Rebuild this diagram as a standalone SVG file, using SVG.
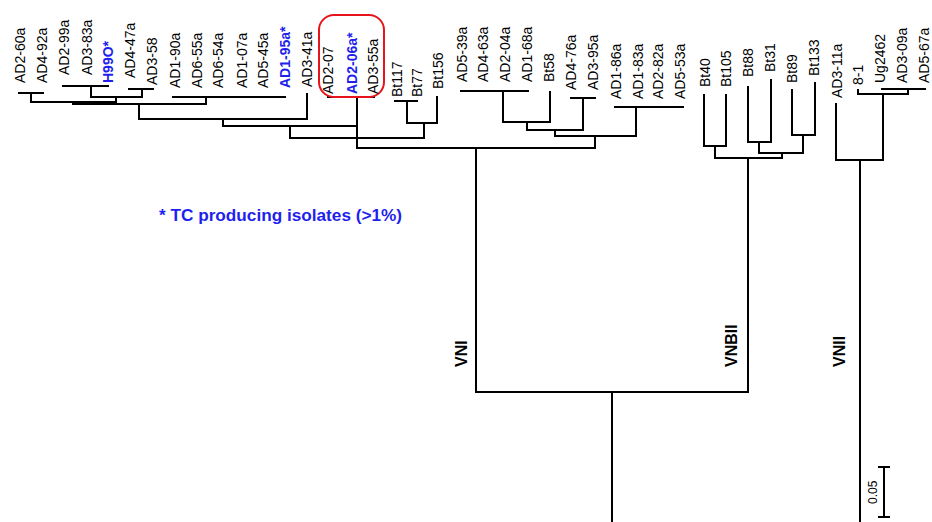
<svg xmlns="http://www.w3.org/2000/svg" width="932" height="522" viewBox="0 0 932 522">
<style>
.l{font-family:"Liberation Sans",Arial,sans-serif;font-size:14px;fill:#000}
.b{font-weight:bold;fill:#1f1fee}
.c{font-family:"Liberation Sans",Arial,sans-serif;font-size:16px;font-weight:bold;fill:#000}
.e{fill:none;stroke:#000;stroke-width:2;stroke-linecap:square}
</style>
<rect width="932" height="522" fill="#fff"/>
<g id="connectors" class="e">
<path d="M19 93H43M31 93V102M63 86H108M91 86V97M129 89H153M142 89V97M91 97H142M116 97V102M31 102H116M73 102V104M173 97H285M206 97V104M73 104H206M139 104V119M307 94V119M139 119H307M223 119V126M328 97H374M357 97V148M223 126H357M290 126V138M395 101H417M407 101V123M437 97V123M407 123H437M424 123V138M290 138H424M357 148H595M476 148V392"/>
<path d="M461 91H528M503 91V122M550 92V122M503 122H550M527 122V130M571 98H595M583 98V130M527 130H583M555 130V136M615 107H683M636 107V136M555 136H636M595 136V148"/>
<path d="M704 95V146M726 95V146M704 146H726M715 146V158M748 87V142M771 80V142M748 142H771M759 142V153M792 90V135M815 83V135M792 135H815M803 135V153M759 153H803M782 153V158M715 158H782M748 158V392M476 392H748M612 392V522"/>
<path d="M836 104V160M858 90V94M858 94H908M882 89H925M908 89V94M883 94V160M836 160H883M860 160V522"/>
</g>
<g id="scale-bar">
<path class="e" d="M884 467V517M879 467H889M879 517H889"/>
<text class="l" style="font-size:12px" transform="translate(877,504) rotate(-90)">0.05</text>
</g>
<g id="highlight-box"><rect x="319" y="15" width="65" height="82" rx="15" fill="none" stroke="#e8141c" stroke-width="2"/></g>
<g id="leaves">
<g id="n-AD2-60a"><text class="l" transform="translate(25,83) rotate(-90)">AD2-60a</text></g>
<g id="n-AD4-92a"><text class="l" transform="translate(47,83) rotate(-90)">AD4-92a</text></g>
<g id="n-AD2-99a"><text class="l" transform="translate(69,75) rotate(-90)">AD2-99a</text></g>
<g id="n-AD3-83a"><text class="l" transform="translate(92,75) rotate(-90)">AD3-83a</text></g>
<g id="n-H99O"><text class="l b" transform="translate(113,83) rotate(-90)">H99O*</text></g>
<g id="n-AD4-47a"><text class="l" transform="translate(135,78) rotate(-90)">AD4-47a</text></g>
<g id="n-AD3-58"><text class="l" transform="translate(157,85) rotate(-90)">AD3-58</text></g>
<g id="n-AD1-90a"><text class="l" transform="translate(180,88) rotate(-90)">AD1-90a</text></g>
<g id="n-AD6-55a"><text class="l" transform="translate(202,88) rotate(-90)">AD6-55a</text></g>
<g id="n-AD6-54a"><text class="l" transform="translate(223,88) rotate(-90)">AD6-54a</text></g>
<g id="n-AD1-07a"><text class="l" transform="translate(247,88) rotate(-90)">AD1-07a</text></g>
<g id="n-AD5-45a"><text class="l" transform="translate(268,88) rotate(-90)">AD5-45a</text></g>
<g id="n-AD1-95a"><text class="l b" transform="translate(290,88) rotate(-90)">AD1-95a*</text></g>
<g id="n-AD3-41a"><text class="l" transform="translate(312,87) rotate(-90)">AD3-41a</text></g>
<g id="n-AD2-07"><text class="l" transform="translate(333,94) rotate(-90)">AD2-07</text></g>
<g id="n-AD2-06a"><text class="l b" transform="translate(357,94) rotate(-90)">AD2-06a*</text></g>
<g id="n-AD3-55a"><text class="l" transform="translate(378,94) rotate(-90)">AD3-55a</text></g>
<g id="n-Bt117"><text class="l" transform="translate(402,97) rotate(-90)">Bt117</text></g>
<g id="n-Bt77"><text class="l" transform="translate(422,97) rotate(-90)">Bt77</text></g>
<g id="n-Bt156"><text class="l" transform="translate(443,89) rotate(-90)">Bt156</text></g>
<g id="n-AD5-39a"><text class="l" transform="translate(467,82) rotate(-90)">AD5-39a</text></g>
<g id="n-AD4-63a"><text class="l" transform="translate(488,82) rotate(-90)">AD4-63a</text></g>
<g id="n-AD2-04a"><text class="l" transform="translate(510,82) rotate(-90)">AD2-04a</text></g>
<g id="n-AD1-68a"><text class="l" transform="translate(532,82) rotate(-90)">AD1-68a</text></g>
<g id="n-Bt58"><text class="l" transform="translate(554,82) rotate(-90)">Bt58</text></g>
<g id="n-AD4-76a"><text class="l" transform="translate(576,90) rotate(-90)">AD4-76a</text></g>
<g id="n-AD3-95a"><text class="l" transform="translate(598,90) rotate(-90)">AD3-95a</text></g>
<g id="n-AD1-86a"><text class="l" transform="translate(621,99) rotate(-90)">AD1-86a</text></g>
<g id="n-AD1-83a"><text class="l" transform="translate(643,99) rotate(-90)">AD1-83a</text></g>
<g id="n-AD2-82a"><text class="l" transform="translate(663,99) rotate(-90)">AD2-82a</text></g>
<g id="n-AD5-53a"><text class="l" transform="translate(685,99) rotate(-90)">AD5-53a</text></g>
<g id="n-Bt40"><text class="l" transform="translate(710,87) rotate(-90)">Bt40</text></g>
<g id="n-Bt105"><text class="l" transform="translate(731,87) rotate(-90)">Bt105</text></g>
<g id="n-Bt88"><text class="l" transform="translate(753,77) rotate(-90)">Bt88</text></g>
<g id="n-Bt31"><text class="l" transform="translate(775,72) rotate(-90)">Bt31</text></g>
<g id="n-Bt89"><text class="l" transform="translate(797,83) rotate(-90)">Bt89</text></g>
<g id="n-Bt133"><text class="l" transform="translate(819,76) rotate(-90)">Bt133</text></g>
<g id="n-AD3-11a"><text class="l" transform="translate(842,98) rotate(-90)">AD3-11a</text></g>
<g id="n-8-1"><text class="l" transform="translate(863,85) rotate(-90)">8-1</text></g>
<g id="n-Ug2462"><text class="l" transform="translate(885,83) rotate(-90)">Ug2462</text></g>
<g id="n-AD3-09a"><text class="l" transform="translate(907,83) rotate(-90)">AD3-09a</text></g>
<g id="n-AD5-67a"><text class="l" transform="translate(929,83) rotate(-90)">AD5-67a</text></g>
</g>
<g id="clades">
<text class="c" transform="translate(467,367) rotate(-90)">VNI</text>
<text class="c" transform="translate(737,367) rotate(-90)">VNBII</text>
<text class="c" transform="translate(845,367) rotate(-90)">VNII</text>
</g>
<g id="legend"><text x="159" y="221" style="font-family:'Liberation Sans',Arial,sans-serif;font-size:17.2px;font-weight:bold;fill:#1f1fee">* TC producing isolates (&gt;1%)</text></g>
</svg>
